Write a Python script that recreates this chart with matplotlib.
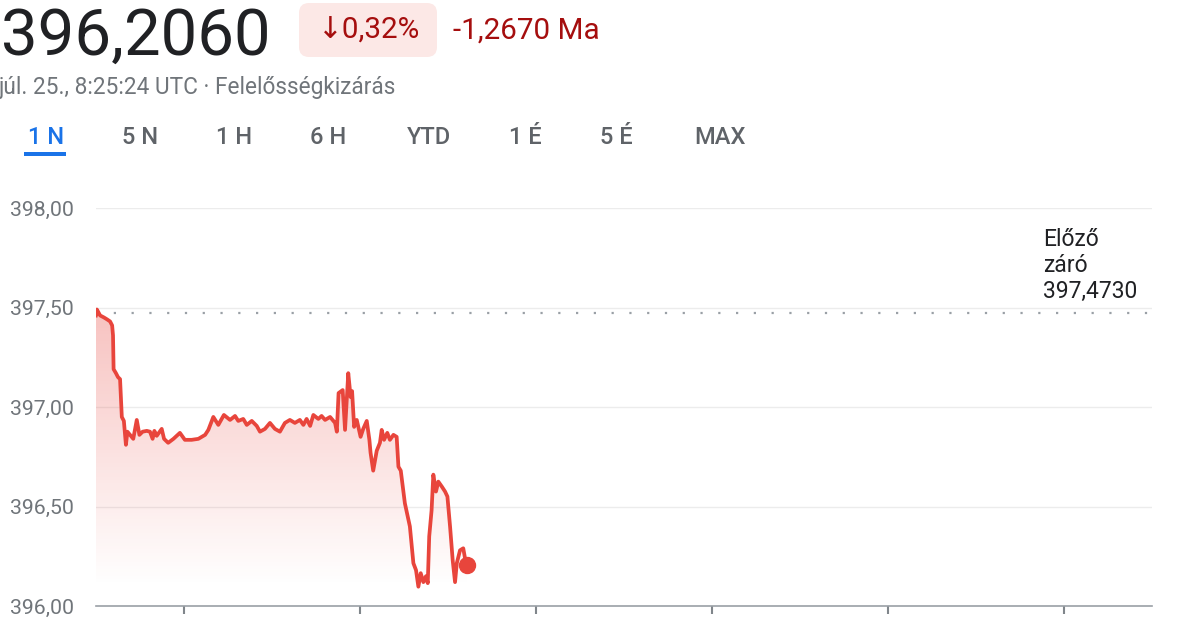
import matplotlib.pyplot as plt
import numpy as np
from matplotlib.patches import FancyBboxPatch, PathPatch, Rectangle

plt.rcParams['font.family'] = ['Roboto', 'DejaVu Sans']

# Price data (minutes since session start, price)
minutes = [0.0, 0.2, 0.3, 1.4, 2.7, 3.8, 4.8, 5.5, 5.8, 6.0, 6.8, 7.5, 8.2, 8.8, 9.5,
           10.2, 10.7, 11.6, 12.7, 13.9, 14.8, 15.9, 17.3, 18.4, 19.3, 19.9, 20.7, 22.4,
           23.2, 24.6, 26.4, 28.6, 30.3, 32.6, 34.9, 37.2, 38.3, 40.0, 41.7, 43.6, 45.7,
           47.4, 48.5, 50.2, 51.4, 53.1, 54.8, 55.9, 57.6, 59.3, 61.0, 62.7, 64.4, 66.1,
           67.8, 69.5, 70.7, 71.8, 73.0, 74.1, 75.8, 76.9, 78.1, 79.8, 81.5, 82.1, 82.7,
           84.1, 84.9, 86.0, 86.8, 87.3, 88.0, 88.9, 90.2, 91.1, 92.3, 93.2, 93.6, 94.5,
           95.7, 96.8, 97.4, 98.2, 99.3, 100.2, 101.4, 102.5, 103.1, 103.9, 105.3, 107.0,
           108.2, 109.1, 109.9, 110.7, 111.6, 112.5, 113.1, 113.6, 114.4, 115.0, 115.9,
           116.7, 117.9, 119.0, 119.8, 120.7, 121.6, 122.4, 123.0, 124.1, 125.2, 125.8,
           126.5]
prices = [397.46, 397.47, 397.49, 397.46, 397.45, 397.44, 397.43, 397.41, 397.36, 397.19,
          397.17, 397.15, 397.14, 396.95, 396.93, 396.81, 396.876, 396.86, 396.84, 396.935,
          396.86, 396.876, 396.88, 396.876, 396.84, 396.88, 396.855, 396.89, 396.84, 396.82,
          396.84, 396.87, 396.835, 396.835, 396.84, 396.86, 396.885, 396.95, 396.91, 396.96,
          396.935, 396.955, 396.93, 396.94, 396.91, 396.93, 396.905, 396.876, 396.89, 396.92,
          396.89, 396.876, 396.92, 396.935, 396.92, 396.935, 396.91, 396.94, 396.905, 396.96,
          396.94, 396.955, 396.935, 396.95, 396.92, 396.876, 397.07, 397.085, 396.885, 397.17,
          397.05, 397.08, 396.90, 396.935, 396.85, 396.89, 396.93, 396.835, 396.77, 396.68,
          396.78, 396.82, 396.885, 396.835, 396.87, 396.835, 396.86, 396.85, 396.70, 396.68,
          396.516, 396.40, 396.215, 396.18, 396.097, 396.165, 396.12, 396.15, 396.115, 396.35,
          396.48, 396.66, 396.575, 396.625, 396.60, 396.575, 396.55, 396.40, 396.23, 396.12,
          396.215, 396.28, 396.29, 396.24, 396.206]
prev_close = 397.473
y_ticks = [396.0, 396.5, 397.0, 397.5, 398.0]
y_labels = ['396,00', '396,50', '397,00', '397,50', '398,00']
x_ticks = [30, 90, 150, 210, 270, 330]
tabs = ['1 N', '5 N', '1 H', '6 H', 'YTD', '1 É', '5 É', 'MAX']
tab_x = [46.5, 140.5, 234.5, 328.5, 429, 525.5, 616, 720]

red = '#e8453c'
gray = '#70757a'

fig = plt.figure(figsize=(11.99, 6.3), dpi=100)

# main chart
ax = fig.add_axes([96 / 1199, 24 / 630, 1056 / 1199, 398 / 630])
ax.set_facecolor('none')
t = np.array(minutes)
p = np.array(prices)

ax.set_yticks(y_ticks, labels=y_labels)
ax.set_xticks(x_ticks, labels=[''] * len(x_ticks))
ax.tick_params(axis='y', length=0, pad=16, labelsize=15.3, labelcolor=gray)
ax.tick_params(axis='x', length=6, width=1.5, color='#80868b', direction='out')
ax.grid(axis='y', color='#ececec', lw=1)
ax.set_axisbelow(True)
for s in ['top', 'right', 'left']:
    ax.spines[s].set_visible(False)
ax.spines['bottom'].set_color('#9aa0a6')
ax.spines['bottom'].set_linewidth(1.2)

# gradient fill under the line
fill = ax.fill_between(t, p, 396, color='none', lw=0)
clip = PathPatch(fill.get_paths()[0], facecolor='none', edgecolor='none')
ax.add_patch(clip)
rows = np.linspace(397.5, 396.0, 256)
alpha = np.interp(rows, [396.1, 397.5], [0.0, 0.33])
grad = np.zeros((256, 1, 4))
grad[:, :, :3] = np.array([0.91, 0.27, 0.24])
grad[:, 0, 3] = alpha
im = ax.imshow(grad, extent=[t[0], t[-1], 396.0, 397.5], aspect='auto',
               origin='upper', zorder=1, interpolation='bilinear')
im.set_clip_path(clip)
ax.set_xlim(0, 360)
ax.set_ylim(396, 398)

ax.axhline(prev_close, ls=(0, (1, 7)), lw=1.6, color='#9aa0a6', zorder=2)
ax.plot(t, p, color=red, lw=2.7, zorder=3, solid_joinstyle='round')
ax.plot(t[-1], p[-1], 'o', ms=11.5, color=red, zorder=4)

# header overlay in pixel coordinates
ov = fig.add_axes([0, 0, 1, 1], zorder=-1)
ov.set_xlim(0, 1199)
ov.set_ylim(630, 0)
ov.axis('off')

ov.text(1, 55, '396,2060', fontsize=47, color='#202124', va='baseline')
ov.add_patch(FancyBboxPatch((299, 3), 138, 54, boxstyle='round,pad=0,rounding_size=10',
                            facecolor='#fce8e6', edgecolor='none'))
ov.text(369, 39, '↓0,32%', fontsize=21.3, color='#a50e0e', va='baseline', ha='center')
ov.text(453, 39, '-1,2670 Ma', fontsize=21.3, color='#a50e0e', va='baseline')
ov.text(-1, 94, 'júl. 25., 8:25:24 UTC · Felelősségkizárás', fontsize=16.3,
        color=gray, va='baseline')

for i, (lab, x) in enumerate(zip(tabs, tab_x)):
    c = '#1a73e8' if i == 0 else '#5f6368'
    ov.text(x, 144, lab, fontsize=17, color=c, ha='center', va='baseline',
            weight='medium')
ov.add_patch(Rectangle((24, 152), 42, 4, facecolor='#1a73e8', edgecolor='none'))

for line, yb in zip(['Előző', 'záró', '397,4730'], [246, 272, 298]):
    ov.text(1043, yb, line, fontsize=16.5, color='#202124', va='baseline', ha='left')

fig.savefig('out.png', dpi=100)
